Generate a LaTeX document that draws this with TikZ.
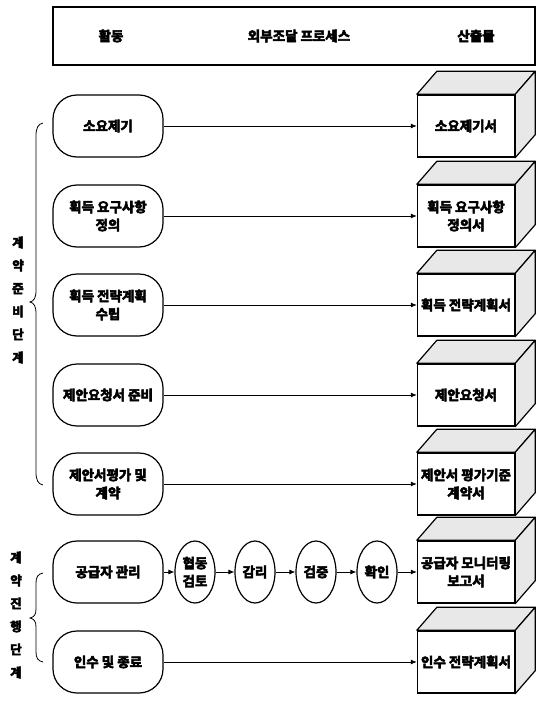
\documentclass[tikz,border=0pt]{standalone}
\usepackage{fontspec}
\setmainfont{Noto Sans CJK KR Bold}[FakeBold=4]
\usetikzlibrary{shapes.geometric,arrows.meta}
\newcommand{\cubefaces}[1]{%
  \filldraw[face] (#1.north west) -- ([shift={(20,-23)}]#1.north west) -- ([shift={(20,-23)}]#1.north east) -- (#1.north east) -- cycle;
  \filldraw[face] (#1.north east) -- ([shift={(20,-23)}]#1.north east) -- ([shift={(20,-23)}]#1.south east) -- (#1.south east) -- cycle;}
\begin{document}
\begin{tikzpicture}[x=1pt,y=-1pt,
  every node/.style={font=\fontsize{13.5}{18}\selectfont, align=center, inner sep=1pt},
  act/.style={draw, line width=1.2pt, rounded corners=24pt, minimum width=110pt, minimum height=62pt},
  sub/.style={draw, ellipse, line width=1.2pt, minimum width=40pt, minimum height=62pt, inner sep=0pt},
  outbox/.style={draw, line width=1.4pt, fill=white, minimum width=97pt, minimum height=62pt, inner sep=0pt},
  face/.style={draw=black, line width=1.2pt, fill=gray!18, line join=round},
  flow/.style={-{Latex[length=6pt,width=5pt]}, line width=0.8pt},
  brace/.style={line width=0.8pt},
  vlabel/.style={font=\fontsize{12.5}{23}\selectfont}]
\useasboundingbox (0,0) rectangle (543,701);
% header
\node[draw, line width=1.2pt, minimum width=482pt, minimum height=58pt] (hdr) at (294,36) {};
\node (h1) at (111,36) {활동};
\node (h2) at (299,36) {외부조달 프로세스};
\node (h3) at (476,36) {산출물};
% activities
\node[act] (a1) at (108,126) {소요제기};
\node[act] (a2) at (108,216) {획득 요구사항\\정의};
\node[act] (a3) at (108,305) {획득 전략계획\\수립};
\node[act] (a4) at (108,395) {제안요청서 준비};
\node[act] (a5) at (108,484) {제안서평가 및\\계약};
\node[act] (a6) at (108,572) {공급자 관리};
\node[act] (a7) at (108,662) {인수 및 종료};
% sub-process ellipses
\node[sub] (e1) at (195,572) {협동\\검토};
\node[sub] (e2) at (255,572) {감리};
\node[sub] (e3) at (316,572) {검증};
\node[sub] (e4) at (377,572) {확인};
% output cubes
\node[outbox] (o1) at (466,126) {소요제기서};
\node[outbox] (o2) at (466,216) {획득 요구사항\\정의서};
\node[outbox] (o3) at (466,305) {획득 전략계획서};
\node[outbox] (o4) at (466,395) {제안요청서};
\node[outbox] (o5) at (466,484) {제안서 평가기준\\계약서};
\node[outbox] (o6) at (466,572) {공급자 모니터링\\보고서};
\node[outbox] (o7) at (466,662) {인수 전략계획서};
\cubefaces{o1}\cubefaces{o2}\cubefaces{o3}\cubefaces{o4}\cubefaces{o5}\cubefaces{o6}\cubefaces{o7}
% connectors
\draw[flow] (a1) -- (o1);
\draw[flow] (a2) -- (o2);
\draw[flow] (a3) -- (o3);
\draw[flow] (a4) -- (o4);
\draw[flow] (a5) -- (o5);
\draw[flow] (a6) -- (e1);
\draw[flow] (e1) -- (e2);
\draw[flow] (e2) -- (e3);
\draw[flow] (e3) -- (e4);
\draw[flow] (e4) -- (o6);
\draw[flow] (a7) -- (o7);
% braces
\draw[brace] (43,123) .. controls (38,124) and (36,128) .. (36,136) -- (36,290) .. controls (36,298) and (34,301) .. (30,302) .. controls (34,303) and (36,306) .. (36,314) -- (36,472) .. controls (36,480) and (38,484) .. (43,485);
\draw[brace] (43,573) .. controls (38,574) and (36,577) .. (36,583) -- (36,609) .. controls (36,615) and (34,617) .. (30,618) .. controls (34,619) and (36,621) .. (36,627) -- (36,652) .. controls (36,658) and (38,661) .. (43,662);
% vertical labels
\node[vlabel] (l1) at (18,300) {계\\약\\준\\비\\단\\계};
\node[vlabel] (l2) at (16,615) {계\\약\\진\\행\\단\\계};
\end{tikzpicture}
\end{document}
